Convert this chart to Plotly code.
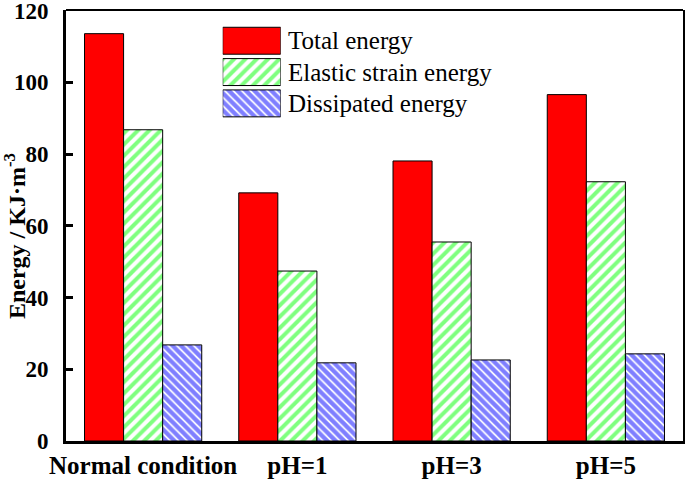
import plotly.graph_objects as go

# data
conditions = ["Normal condition", "pH=1", "pH=3", "pH=5"]
total_energy = [113.6, 69.2, 78.1, 96.6]
elastic_energy = [86.8, 47.4, 55.5, 72.3]
dissipated_energy = [26.8, 21.8, 22.6, 24.3]
series_names = ["Total energy", "Elastic strain energy", "Dissipated energy"]

RED = "#ff0000"
GREEN = "#00ff00"
BLUE = "#0000ff"
SERIF = "Liberation Serif"

styles = [
    dict(color=RED),
    dict(color="white", pattern=dict(shape="/", fgcolor=GREEN, bgcolor="white",
                                     size=8, solidity=0.5, fillmode="overlay")),
    dict(color="white", pattern=dict(shape="\\", fgcolor=BLUE, bgcolor="white",
                                     size=6, solidity=0.7, fillmode="overlay")),
]

fig = go.Figure()
for name, values, style in zip(series_names,
                               [total_energy, elastic_energy, dissipated_energy],
                               styles):
    fig.add_trace(go.Bar(
        x=conditions,
        y=values,
        name=name,
        marker=dict(**style, line=dict(color="black", width=1)),
        showlegend=False,
    ))

# legend drawn as an inset of large swatches, like the original
legend_rows = [2, 1, 0]
for name, row, style in zip(series_names, legend_rows, styles):
    fig.add_trace(go.Bar(
        x=[1],
        y=[row],
        orientation="h",
        width=0.86,
        xaxis="x2",
        yaxis="y2",
        marker=dict(**style, line=dict(color="black", width=1)),
        showlegend=False,
        hoverinfo="skip",
    ))

legend_x1 = 0.348
legend_y = [0.965, 0.747]
row_h = (legend_y[0] - legend_y[1]) / 3
annotations = [
    dict(text=name, x=legend_x1 + 0.008, y=legend_y[1] + (row + 0.5) * row_h,
         xref="paper", yref="paper", xanchor="left", yanchor="middle",
         showarrow=False,
         font=dict(family=SERIF, size=25, color="black", weight="normal"))
    for name, row in zip(series_names, legend_rows)
]
# y-axis title placed by hand so it can sit beside the two-digit labels
annotations.append(dict(
    text="<b>Energy / KJ·m<sup>-3</sup></b>", textangle=-90,
    x=-0.083, y=0.475, xref="paper", yref="paper",
    xanchor="center", yanchor="middle", showarrow=False,
    font=dict(family=SERIF, size=24, color="black"),
))

fig.update_layout(
    width=685,
    height=488,
    margin=dict(l=66, r=2, t=10, b=47),
    paper_bgcolor="white",
    plot_bgcolor="white",
    barmode="group",
    bargap=0.24,
    bargroupgap=0,
    font=dict(family=SERIF, color="black"),
    xaxis=dict(
        range=[-0.5, 3.5],
        showline=True,
        linecolor="black",
        linewidth=3,
        ticks="",
        automargin=False,
        tickfont=dict(family=SERIF, size=25, color="black", weight="bold"),
        showgrid=False,
        zeroline=False,
    ),
    yaxis=dict(
        range=[0, 120.2],
        tickvals=[0, 20, 40, 60, 80, 100, 120],
        showline=True,
        linecolor="black",
        linewidth=3,
        mirror=True,
        ticks="inside",
        ticklen=7,
        tickwidth=3,
        tickcolor="black",
        ticklabelstandoff=10,
        ticklabeloverflow="allow",
        automargin=False,
        tickfont=dict(family=SERIF, size=23, color="black", weight="bold"),
        showgrid=False,
        zeroline=False,
    ),
    xaxis2=dict(domain=[0.254, legend_x1], range=[0, 1], anchor="y2",
                visible=False, fixedrange=True),
    yaxis2=dict(domain=[legend_y[1], legend_y[0]], range=[-0.5, 2.5], anchor="x2",
                visible=False, fixedrange=True),
    annotations=annotations,
    shapes=[dict(type="line", xref="paper", yref="paper", x0=0, x1=1, y0=1, y1=1,
                 line=dict(color="black", width=2))],
)

# the page's default body margin would shift the figure by 8px
fig.write_html(
    "out.html",
    config={"displayModeBar": False},
    post_script="document.body.style.margin = '0';",
)
